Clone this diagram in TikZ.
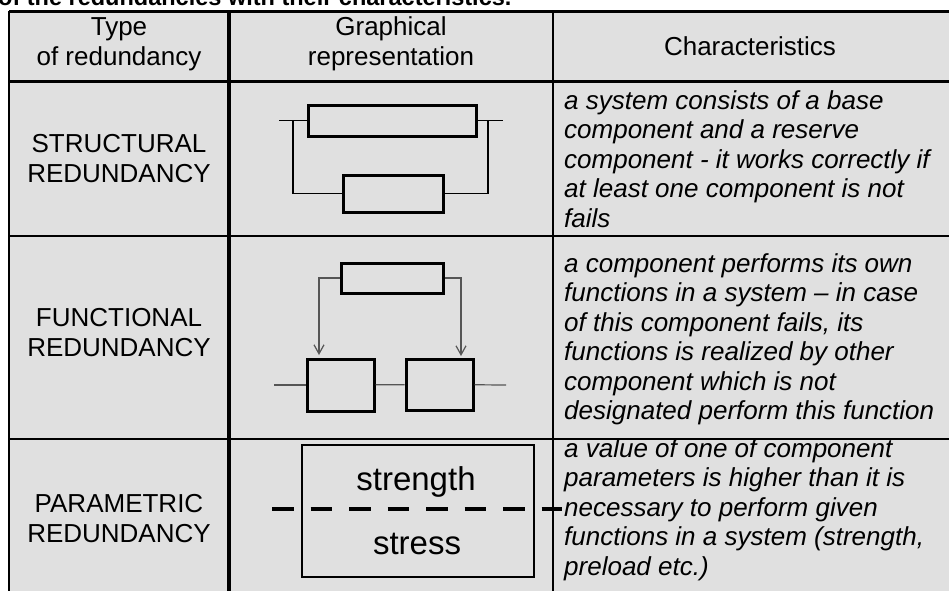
\documentclass[tikz,border=0pt]{standalone}
\usepackage{fontspec}
\setmainfont{Liberation Sans}
\usetikzlibrary{arrows.meta}
\definecolor{cellgray}{RGB}{224,224,224}
\definecolor{wiregray}{RGB}{85,85,85}
\begin{document}
\begin{tikzpicture}[x=1pt,y=-1pt,>={Straight Barb[length=9pt,width=10pt]}, line join=miter,
  comp/.style 2 args={draw,line width=3pt,minimum width=#1,minimum height=#2,inner sep=0pt},
  wire/.style={line width=1.5pt},
  sig/.style={draw=wiregray,line width=1.2pt},
  head/.style={align=center,font=\fontsize{26}{30}\selectfont,inner sep=0pt},
  desc/.style={anchor=north west,align=left,font=\itshape\fontsize{26}{29.5}\selectfont,inner sep=0pt}]
\def\xl{9} \def\xa{229} \def\xb{553} \def\xr{960}
\def\yt{11} \def\yh{81} \def\ya{236} \def\yb{439} \def\yd{600}
\useasboundingbox (0,0) rectangle (949,590);
\clip (0,0) rectangle (949,590);
% title, cut off at the top
\node[anchor=base west,font=\bfseries\fontsize{23.5}{28}\selectfont,inner sep=0pt] (title) at (-2,5) {of the redundancies with their characteristics.};
% table
\fill[cellgray] (\xl,\yt) rectangle (\xr,\yd);
\draw[line width=3pt] (\xl,\yt) -- (\xr,\yt);
\draw[line width=2pt] (\xl,\yt) -- (\xl,\yd);
\draw[line width=3pt] (\xl,\yh) -- (\xr,\yh);
\draw[line width=2.5pt] (\xl,\ya) -- (\xr,\ya);
\draw[line width=1.5pt] (\xl,\yb) -- (\xr,\yb);
\draw[line width=3.5pt] (\xa,\yt) -- (\xa,\yd);
\draw[line width=2pt] (\xb,\yt) -- (\xb,\yd);
% headings
\node[head] (htype) at (119,44) {Type\\of redundancy};
\node[head] (hgraph) at (391,44) {Graphical\\representation};
\node[head] (hchar) at (750,46) {Characteristics};
\node[head] (rstruct) at (119,159) {STRUCTURAL\\REDUNDANCY};
\node[head] (rfunc) at (119,332.5) {FUNCTIONAL\\REDUNDANCY};
\node[head] (rparam) at (119,519) {PARAMETRIC\\REDUNDANCY};
% characteristics
\node[desc] (cstruct) at (564,90) {a system consists of a base\\component and a reserve\\component - it works correctly if\\at least one component is not\\fails};
\node[desc] (cfunc) at (564,253) {a component performs its own\\functions in a system \textendash{} in case\\of this component fails, its\\functions is realized by other\\component which is not\\designated perform this function};
\node[desc] (cparam) at (564,438) {a value of one of component\\parameters is higher than it is\\necessary to perform given\\functions in a system (strength,\\preload etc.)};
% structural: base and reserve in parallel
\node[comp={168}{31}] (sbase) at (392,120.5) {};
\node[comp={100}{37}] (sres) at (393,193.5) {};
\coordinate (sin) at (279,120.5);
\coordinate (sout) at (503,120.5);
\coordinate (sjl) at (293,120.5);
\coordinate (sjr) at (488,120.5);
\draw[wire] (sin) -- (sbase);
\draw[wire] (sbase) -- (sout);
\draw[wire] (sjl) |- (sres);
\draw[wire] (sjr) |- (sres);
% functional
\node[comp={102}{30}] (fmain) at (392,278) {};
\node[comp={67}{52}] (fa) at (340.5,385) {};
\node[comp={67}{51}] (fb) at (439.5,384.5) {};
\coordinate (fal) at (319,355);
\coordinate (far) at (461,356);
\coordinate (fin) at (274,385);
\coordinate (fout) at (506,385);
\draw[sig,->] (fmain) -| (fal);
\draw[sig,->] (fmain) -| (far);
\draw[sig] (fin) -- (fa);
\draw[sig] (fa) -- (fb);
\draw[sig] (fb) -- (fout);
% parametric
\node[draw,line width=2pt,minimum width=232,minimum height=132,inner sep=0pt] (pbox) at (418,511) {};
\node[font=\fontsize{33}{36}\selectfont,inner sep=0pt] (pstrength) at (416,481.5) {strength};
\node[font=\fontsize{33}{36}\selectfont,inner sep=0pt] (pstress) at (417,543.5) {stress};
\coordinate (pl) at (272,509);
\coordinate (pr) at (562,509);
\draw[line width=4pt,dash pattern=on 21.5pt off 17pt] (pl) -- (pr);
\end{tikzpicture}
\end{document}
